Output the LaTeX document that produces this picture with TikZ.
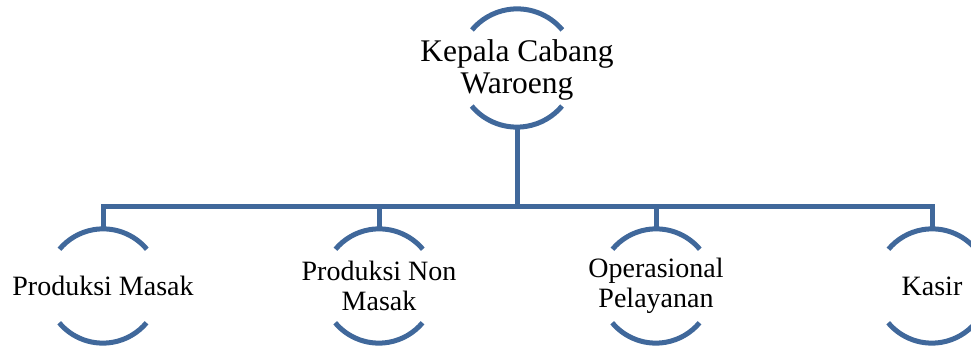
\documentclass[tikz,border=0pt]{standalone}
\usepackage{fontspec}
\setmainfont{Liberation Serif}
\usetikzlibrary{calc}
\definecolor{OrgBlue}{RGB}{64,104,155}

\begin{document}
\begin{tikzpicture}[x=1pt,y=1pt,
  headring/.style={circle,inner sep=0pt,minimum size=118pt},
  ring/.style={circle,inner sep=0pt,minimum size=114pt},
  arcline/.style={draw=OrgBlue,line width=5pt},
  link/.style={draw=OrgBlue,line width=5pt},
  headtext/.style={align=center,font=\fontsize{31.5}{32.5}\selectfont},
  subtext/.style={align=center,font=\fontsize{28}{29.5}\selectfont}]
\useasboundingbox (0,0) rectangle (971,347);
% rings
\node[headring] (boss) at (517,279) {};
\node[ring] (masak) at (103,61) {};
\node[ring] (nonmasak) at (379,61) {};
\node[ring] (operasional) at (656,61) {};
\node[ring] (kasir) at (932,61) {};
\node[headtext] (bosslabel) at ([yshift=-2pt]boss.center) {Kepala Cabang\\Waroeng};
\node[subtext] (masaklabel) at (masak) {Produksi Masak};
\node[subtext] (nonmasaklabel) at (nonmasak) {Produksi Non\\Masak};
\node[subtext] (operasionallabel) at (operasional) {Operasional\\Pelayanan};
\node[subtext] (kasirlabel) at (kasir) {Kasir};
% arcs above and below each label
\draw[arcline] (boss.40) arc[start angle=40,end angle=140,radius=59];
\draw[arcline] (boss.220) arc[start angle=220,end angle=320,radius=59];
\draw[arcline] (masak.40) arc[start angle=40,end angle=140,radius=57];
\draw[arcline] (masak.220) arc[start angle=220,end angle=320,radius=57];
\draw[arcline] (nonmasak.40) arc[start angle=40,end angle=140,radius=57];
\draw[arcline] (nonmasak.220) arc[start angle=220,end angle=320,radius=57];
\draw[arcline] (operasional.40) arc[start angle=40,end angle=140,radius=57];
\draw[arcline] (operasional.220) arc[start angle=220,end angle=320,radius=57];
\draw[arcline] (kasir.40) arc[start angle=40,end angle=140,radius=57];
\draw[arcline] (kasir.220) arc[start angle=220,end angle=320,radius=57];
% connectors
\coordinate (bus) at (517,140);
\draw[link] (boss.south) -- (bus);
\draw[link] (masak.north) |- (bus) -| (kasir.north);
\draw[link] (nonmasak.north) -- (nonmasak.north |- bus);
\draw[link] (operasional.north) -- (operasional.north |- bus);
\end{tikzpicture}
\end{document}
